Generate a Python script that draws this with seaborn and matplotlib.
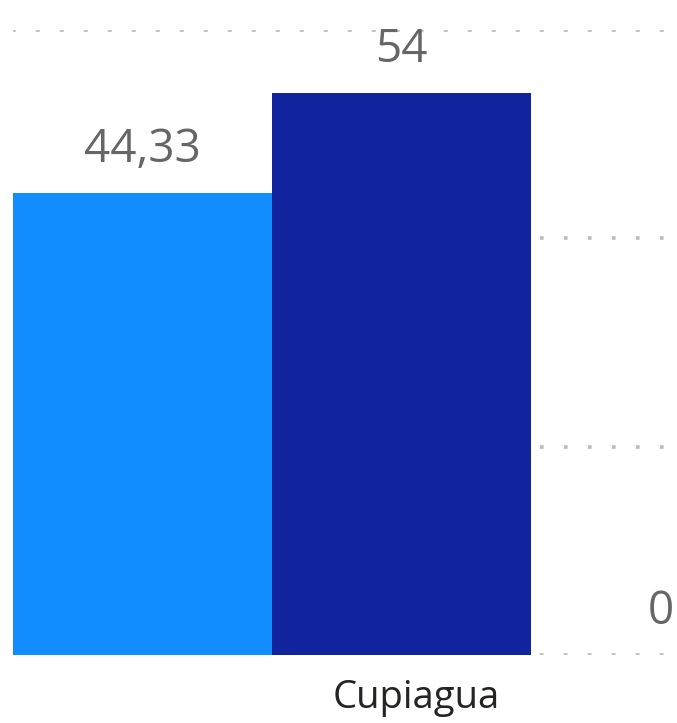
import matplotlib
matplotlib.use("Agg")
import matplotlib.pyplot as plt
import matplotlib.transforms as mtransforms
import seaborn as sns
import pandas as pd

categories = ["Cupiagua"]
series = ["Serie 1", "Serie 2", "Serie 3"]
values = [44.33, 54, 0]
value_labels = ["44,33", "54", "0"]
colors = ["#118DFF", "#12239E", "#E66C37"]
yticks = [0, 20, 40, 60]

df = pd.DataFrame({"cat": categories * len(series), "serie": series, "val": values})

sns.set_theme(style="white")
plt.rcParams['font.family'] = ['Open Sans', 'DejaVu Sans']

W, H = 677, 723
fig = plt.figure(figsize=(W / 100, H / 100), dpi=100)
ax = fig.add_axes([13 / W, 68 / H, 664 / W, 625 / H])

sns.barplot(data=df, x="cat", y="val", hue="serie", palette=colors, width=0.8,
            gap=0, saturation=1, errorbar=None, legend=False, ax=ax, zorder=2,
            linewidth=0, edgecolor="none")

px_per_unit = 777 / 0.8
ax.set_xlim(-0.4, -0.4 + 664 / px_per_unit)
ax.set_ylim(0, 60)
ax.set_yticks(yticks)
ax.set_yticklabels([])
ax.yaxis.grid(True, color="#BEBEBE", linewidth=2.7, linestyle=(0.3, (1, 5.4)))
ax.set_axisbelow(True)
for s in ax.spines.values():
    s.set_visible(False)

ax.set_xlabel("")
ax.set_ylabel("")
ax.set_xticks([0])
ax.set_xticklabels(categories, fontsize=27.5, color="#252423")
ax.tick_params(axis="both", length=0, pad=17)
shift = mtransforms.ScaledTranslation(15 / 100, 0, fig.dpi_scale_trans)
for t in ax.get_xticklabels():
    t.set_transform(t.get_transform() + shift)

for patch, lab in zip(ax.patches, value_labels):
    x = patch.get_x() + patch.get_width() / 2
    y = patch.get_height()
    ax.annotate(lab, (x, y), xytext=(0, 22.3), textcoords="offset points",
                ha="center", va="baseline", fontsize=33, color="#666666",
                annotation_clip=False, clip_on=False)

fig.savefig("out.png", dpi=100)
